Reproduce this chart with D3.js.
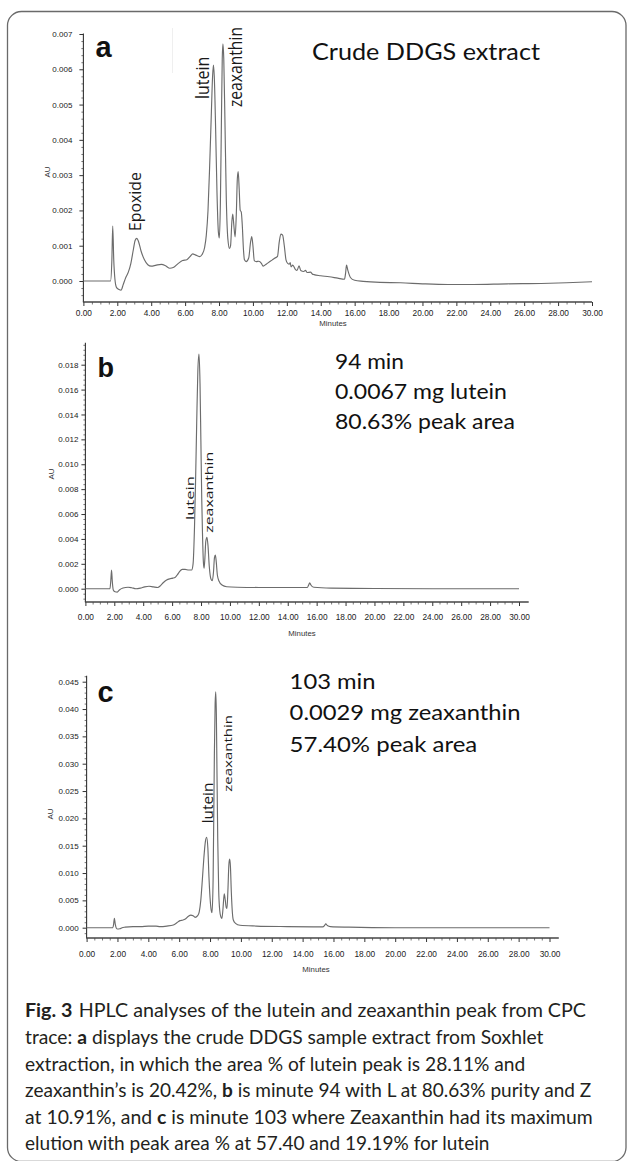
<!DOCTYPE html>
<html><head><meta charset="utf-8">
<script src="https://cdn.jsdelivr.net/npm/d3@7"></script>
<style>html,body{margin:0;padding:0;background:#fff}svg{display:block}</style>
</head><body><svg id="chart" width="629" height="1161"></svg>
<script>
// ---------- DATA ----------
const xTicks = [0,2,4,6,8,10,12,14,16,18,20,22,24,26,28,30];
const yTicksA = [0,0.001,0.002,0.003,0.004,0.005,0.006,0.007];
const yTicksB = [0,0.002,0.004,0.006,0.008,0.010,0.012,0.014,0.016,0.018];
const yTicksC = [0,0.005,0.010,0.015,0.020,0.025,0.030,0.035,0.040,0.045];

// panel a: crude DDGS extract (minutes, AU)
const aTime = [0,1.6,1.68,1.73,1.79,1.86,1.95,2.1,2.22,2.35,2.5,2.65,2.8,2.95,3.05,3.15,3.25,3.4,3.6,3.8,4.0,4.3,4.6,4.85,5.1,5.3,5.6,5.85,6.1,6.3,6.45,6.6,6.85,7.0,7.15,7.25,7.35,7.45,7.55,7.62,7.67,7.72,7.8,7.88,7.96,8.02,8.08,8.14,8.19,8.23,8.28,8.35,8.43,8.52,8.62,8.68,8.76,8.81,8.87,8.95,9.02,9.08,9.13,9.19,9.25,9.31,9.37,9.44,9.5,9.6,9.75,9.86,9.93,10.0,10.08,10.2,10.35,10.5,10.6,10.7,10.85,11.0,11.15,11.3,11.45,11.55,11.65,11.75,11.85,11.95,12.05,12.15,12.2,12.25,12.35,12.5,12.6,12.72,12.82,13.0,13.1,13.2,13.4,13.5,13.6,14.0,14.5,15.0,15.4,15.46,15.52,15.6,15.75,16.0,16.5,17.5,18.7,20,21.5,23,25,27,28.5,30];
const aAU = [0,0,0.0006,0.00156,0.0006,0.00005,-0.00018,-0.00024,-0.00026,-0.0001,0.0001,0.00025,0.0005,0.0009,0.00115,0.00121,0.00112,0.00085,0.0006,0.00046,0.00042,0.00045,0.00047,0.00043,0.00036,0.00038,0.0005,0.00058,0.0006,0.0007,0.00077,0.00074,0.00069,0.00075,0.00095,0.0013,0.002,0.0033,0.0048,0.0058,0.00612,0.0058,0.0043,0.0025,0.0014,0.00122,0.0022,0.0045,0.0063,0.00672,0.0063,0.0045,0.0023,0.0012,0.00092,0.001,0.0017,0.0019,0.0016,0.00125,0.0019,0.0029,0.0031,0.0026,0.002,0.00196,0.0016,0.0009,0.0006,0.00055,0.00065,0.0011,0.00126,0.001,0.00058,0.00055,0.00056,0.0005,0.00042,0.00045,0.0005,0.00055,0.0006,0.00065,0.0007,0.0011,0.00133,0.0013,0.001,0.0006,0.0005,0.00048,0.00052,0.0004,0.00045,0.00033,0.0003,0.00043,0.0003,0.00027,0.0003,0.00024,0.00025,0.0002,0.00018,0.00015,0.00012,0.00008,0.00005,0.0002,0.00045,0.0003,0.0001,0.00002,-0.00001,-0.00004,-0.00005,-0.00008,-0.0001,-0.0001,-0.00008,-0.00007,-0.00005,-0.00002];

// panel b: minute 94
const bTime = [0,1.7,1.76,1.81,1.86,1.93,2.05,2.2,2.35,2.6,2.95,3.2,3.5,3.8,4.1,4.4,4.7,5.0,5.2,5.4,5.62,5.85,6.05,6.2,6.35,6.5,6.7,6.9,7.15,7.35,7.45,7.55,7.62,7.7,7.78,7.86,7.93,7.99,8.05,8.1,8.16,8.21,8.27,8.33,8.41,8.48,8.57,8.68,8.78,8.86,8.93,8.99,9.05,9.13,9.25,9.45,9.78,10.5,12,14,15.35,15.45,15.52,15.6,15.8,17,20,24,28,30];
const bAU = [0,0,0.0007,0.0015,0.0006,-0.0001,-0.00025,-0.00027,-0.0001,0.00005,0.00012,0.00008,0.0,0.00005,0.00015,0.0002,0.00015,0.0001,0.00025,0.0005,0.0007,0.0008,0.00085,0.0009,0.0011,0.00135,0.00155,0.00155,0.0015,0.0015,0.002,0.005,0.0085,0.0133,0.0175,0.01886,0.0165,0.0119,0.0072,0.0045,0.0022,0.00164,0.0025,0.0038,0.00413,0.0035,0.0018,0.0008,0.00064,0.0013,0.0025,0.0027,0.0022,0.0011,0.0006,0.0003,0.00016,0.00012,0.0001,0.0001,0.0001,0.0003,0.00048,0.0003,0.00012,0.00005,0.00002,0.0,0.0,0.0];

// panel c: minute 103
const cTime = [0,1.7,1.75,1.8,1.86,1.93,2.0,2.15,2.3,2.5,3.0,3.5,4.0,4.5,4.75,5.2,5.62,5.85,6.05,6.25,6.4,6.6,6.75,6.9,7.03,7.2,7.3,7.4,7.5,7.6,7.7,7.78,7.86,7.93,8.0,8.07,8.13,8.2,8.28,8.33,8.37,8.41,8.45,8.5,8.56,8.63,8.7,8.77,8.84,8.92,8.98,9.05,9.1,9.16,9.22,9.27,9.32,9.38,9.45,9.51,9.65,9.94,11,13,15.3,15.42,15.5,15.6,15.8,17,20,25,30];
const cAU = [0,0,0.0006,0.0017,0.0006,-0.0001,-0.00024,-0.0002,0.0,0.0001,0.0002,0.0002,0.0003,0.0003,0.0002,0.0003,0.0005,0.0009,0.0013,0.0014,0.0016,0.0021,0.0023,0.0022,0.0019,0.0022,0.0029,0.005,0.0087,0.0128,0.0158,0.01654,0.0145,0.0093,0.0055,0.0033,0.00274,0.009,0.0313,0.041,0.04317,0.039,0.0283,0.016,0.0069,0.0031,0.002,0.0017,0.0035,0.0062,0.0052,0.0037,0.00354,0.007,0.0115,0.01257,0.0113,0.0065,0.0027,0.0014,0.0008,0.00044,0.0003,0.0002,0.00015,0.0004,0.0007,0.0004,0.0002,0.0001,0.0,0.0,0.0];

const panelLetters = ["a","b","c"];
const peakLabels = ["lutein","zeaxanthin","Epoxide"];
const noteA = ["Crude DDGS extract"];
const noteB = ["94 min","0.0067 mg lutein","80.63% peak area"];
const noteC = ["103 min","0.0029 mg zeaxanthin","57.40% peak area"];
const captionLines = [
  [{t:"Fig. 3",b:1},{t:"HPLC analyses of the lutein and zeaxanthin peak from CPC",dx:6}],
  [{t:"trace: "},{t:"a",b:1},{t:" displays the crude DDGS sample extract from Soxhlet"}],
  [{t:"extraction, in which the area % of lutein peak is 28.11% and"}],
  [{t:"zeaxanthin’s is 20.42%, "},{t:"b",b:1},{t:" is minute 94 with L at 80.63% purity and Z"}],
  [{t:"at 10.91%, and "},{t:"c",b:1},{t:" is minute 103 where Zeaxanthin had its maximum"}],
  [{t:"elution with peak area % at 57.40 and 19.19% for lutein"}]
];

// ---------- DRAW ----------
const svg = d3.select("#chart");
svg.append("rect").attr("width",629).attr("height",1161).attr("fill","#fff");
svg.append("rect").attr("x",7.5).attr("y",11.5).attr("width",618.5).attr("height",1150)
  .attr("rx",14).attr("fill","none").attr("stroke","#6a6a6a").attr("stroke-width",1.3);

const AX = "Liberation Sans, Arial, sans-serif";
const TX = "'Open Sans', 'Noto Sans', sans-serif";
const NX = "Lato, 'Open Sans', sans-serif";

function fitText(parent, o){
  const t = parent.append("text").attr("font-size",o.size).attr("font-family",o.family||TX)
    .attr("fill",o.fill||"#1a1a1a");
  if (o.weight) t.attr("font-weight",o.weight);
  o.parts.forEach(p=>{
    const s=t.append("tspan").text(p.t);
    if(p.b) s.attr("font-weight","bold");
    if(p.dx) s.attr("dx",p.dx);
  });
  const w = t.node().getComputedTextLength();
  const k = o.width ? o.width/w : 1;
  t.attr("transform",`translate(${o.x},${o.y}) rotate(${o.rot||0}) scale(${k},1)`);
  return t;
}

const panels = [
  {t:aTime, v:aAU, yTicks:yTicksA, x0:83.4, x30:592, xEnd:592, y0:281, yTopTick:34, yBot:302, yTop:33.5,
   minorStep:0.0002, ylabPad:7, xlabDy:12.5, minutes:[333,325.5], au:[50,172]},
  {t:bTime, v:bAU, yTicks:yTicksB, x0:85.4, x30:519, xEnd:528.7, y0:588.7, yTopTick:364.7, yBot:602, yTop:342.7,
   minorStep:0.0004, ylabPad:3, xlabDy:16.5, minutes:[302,635.5], au:[54,474]},
  {t:cTime, v:cAU, yTicks:yTicksC, x0:86.6, x30:549.5, xEnd:558.8, y0:927.7, yTopTick:681.7, yBot:938, yTop:675.7,
   minorStep:0.001, ylabPad:4, xlabDy:17, minutes:[316,971.5], au:[53,814]}
];

panels.forEach((p,i)=>{
  const g = svg.append("g");
  const x = d3.scaleLinear().domain([0,30]).range([p.x0,p.x30]);
  const topTick = p.yTicks[p.yTicks.length-1];
  const y = d3.scaleLinear().domain([0,topTick]).range([p.y0,p.yTopTick]);
  const yMin = y.invert(p.yBot), yMax = y.invert(p.yTop);
  const xMaxExt = x.invert(p.xEnd);

  if(i===0) g.append("line").attr("x1",172.5).attr("x2",172.5).attr("y1",28).attr("y2",73)
    .attr("stroke","#efefef").attr("stroke-width",1);

  const minorY = d3.range(Math.ceil(yMin/p.minorStep)*p.minorStep, yMax, p.minorStep)
    .filter(v=>!p.yTicks.some(t=>Math.abs(t-v)<1e-9));
  const gyMinor = g.append("g").attr("transform",`translate(${p.x0},0)`)
    .call(d3.axisLeft(y).tickValues(minorY).tickSize(2).tickSizeOuter(0).tickFormat(""));
  gyMinor.select(".domain").remove();
  gyMinor.selectAll("line").attr("stroke","#555").attr("stroke-width",0.8);

  const gy = g.append("g").attr("transform",`translate(${p.x0},0)`)
    .call(d3.axisLeft(y).tickValues(p.yTicks).tickSize(4).tickSizeOuter(0)
      .tickPadding(p.ylabPad).tickFormat(d3.format(".3f")));
  gy.select(".domain").remove();
  gy.selectAll("line").attr("stroke","#333").attr("stroke-width",1);
  gy.selectAll("text").attr("font-family",AX).attr("font-size",8).attr("fill","#222");

  const minorX = d3.range(0.5,30.01,0.5).filter(v=>v%2!==0);
  const gxMinor = g.append("g").attr("transform",`translate(0,${p.yBot})`)
    .call(d3.axisBottom(x).tickValues(minorX).tickSize(2.5).tickSizeOuter(0).tickFormat(""));
  gxMinor.select(".domain").remove();
  gxMinor.selectAll("line").attr("stroke","#555").attr("stroke-width",0.8);

  const gx = g.append("g").attr("transform",`translate(0,${p.yBot})`)
    .call(d3.axisBottom(x).tickValues(xTicks).tickSize(4).tickSizeOuter(0)
      .tickPadding(p.xlabDy-8).tickFormat(d3.format(".2f")));
  gx.select(".domain").remove();
  gx.selectAll("line").attr("stroke","#333").attr("stroke-width",1);
  gx.selectAll("text").attr("font-family",AX).attr("font-size",8.3).attr("fill","#222");

  g.append("line").attr("x1",p.x0).attr("x2",p.x0).attr("y1",y(yMin)).attr("y2",y(yMax))
    .attr("stroke","#333").attr("stroke-width",1.1);
  g.append("line").attr("x1",x(0)-0.5).attr("x2",x(xMaxExt)).attr("y1",p.yBot).attr("y2",p.yBot)
    .attr("stroke","#444").attr("stroke-width",1.6);

  g.append("text").attr("x",p.minutes[0]).attr("y",p.minutes[1]).attr("text-anchor","middle")
    .attr("font-family",AX).attr("font-size",7.8).attr("fill","#333").text("Minutes");
  g.append("text").attr("transform",`translate(${p.au[0]},${p.au[1]}) rotate(-90)`)
    .attr("text-anchor","middle").attr("font-family",AX).attr("font-size",8).attr("fill","#333").text("AU");

  const data = p.t.map((tt,k)=>[tt,p.v[k]]);
  g.append("path").datum(data)
    .attr("d", d3.line().x(d=>x(d[0])).y(d=>y(d[1])).curve(d3.curveMonotoneX))
    .attr("fill","none").attr("stroke","#6c6c6c").attr("stroke-width",1.15).attr("stroke-linejoin","round");
});

[[95.5,56.7,29],[97.5,377,27],[97.5,702,29]].forEach((q,i)=>{
  svg.append("text").attr("x",q[0]).attr("y",q[1]).attr("font-family",AX).attr("font-weight","bold")
    .attr("font-size",q[2]).attr("fill","#111").text(panelLetters[i]);
});

fitText(svg,{x:209,y:99,width:42.3,size:19,rot:-90,parts:[{t:peakLabels[0]}]});
fitText(svg,{x:241.7,y:107,width:80,size:18,rot:-90,parts:[{t:peakLabels[1]}]});
fitText(svg,{x:141,y:231,width:59,size:16.5,rot:-90,parts:[{t:peakLabels[2]}]});
fitText(svg,{x:194.3,y:520,width:44,size:10.5,rot:-90,parts:[{t:peakLabels[0]}]});
fitText(svg,{x:213.3,y:532.7,width:81,size:10,rot:-90,parts:[{t:peakLabels[1]}]});
fitText(svg,{x:212.7,y:823.3,width:40.6,size:14.5,rot:-90,parts:[{t:peakLabels[0]}]});
fitText(svg,{x:231.7,y:791.7,width:76.7,size:10,rot:-90,parts:[{t:peakLabels[1]}]});

fitText(svg,{x:312,y:60,width:228,size:23.5,family:NX,fill:"#111",parts:[{t:noteA[0]}]});
[[69,369.3],[172,399.3],[180,429]].forEach((q,i)=>
  fitText(svg,{x:335,y:q[1],width:q[0],size:20.5,family:NX,fill:"#111",parts:[{t:noteB[i]}]}));
[[86,689.3],[231,720],[187.7,751.7]].forEach((q,i)=>
  fitText(svg,{x:289.6,y:q[1],width:q[0],size:21.5,family:NX,fill:"#111",parts:[{t:noteC[i]}]}));

const capW = [555,518.5,500.5,566.6,567.8,464.4];
captionLines.forEach((ln,i)=>{
  fitText(svg,{x:25,y:1017.3+26.6*i,width:capW[i],size:18.6,family:NX,fill:"#231f20",
    parts:ln.map(p=>({t:p.t,b:p.b,dx:p.dx}))});
});
</script></body></html>
